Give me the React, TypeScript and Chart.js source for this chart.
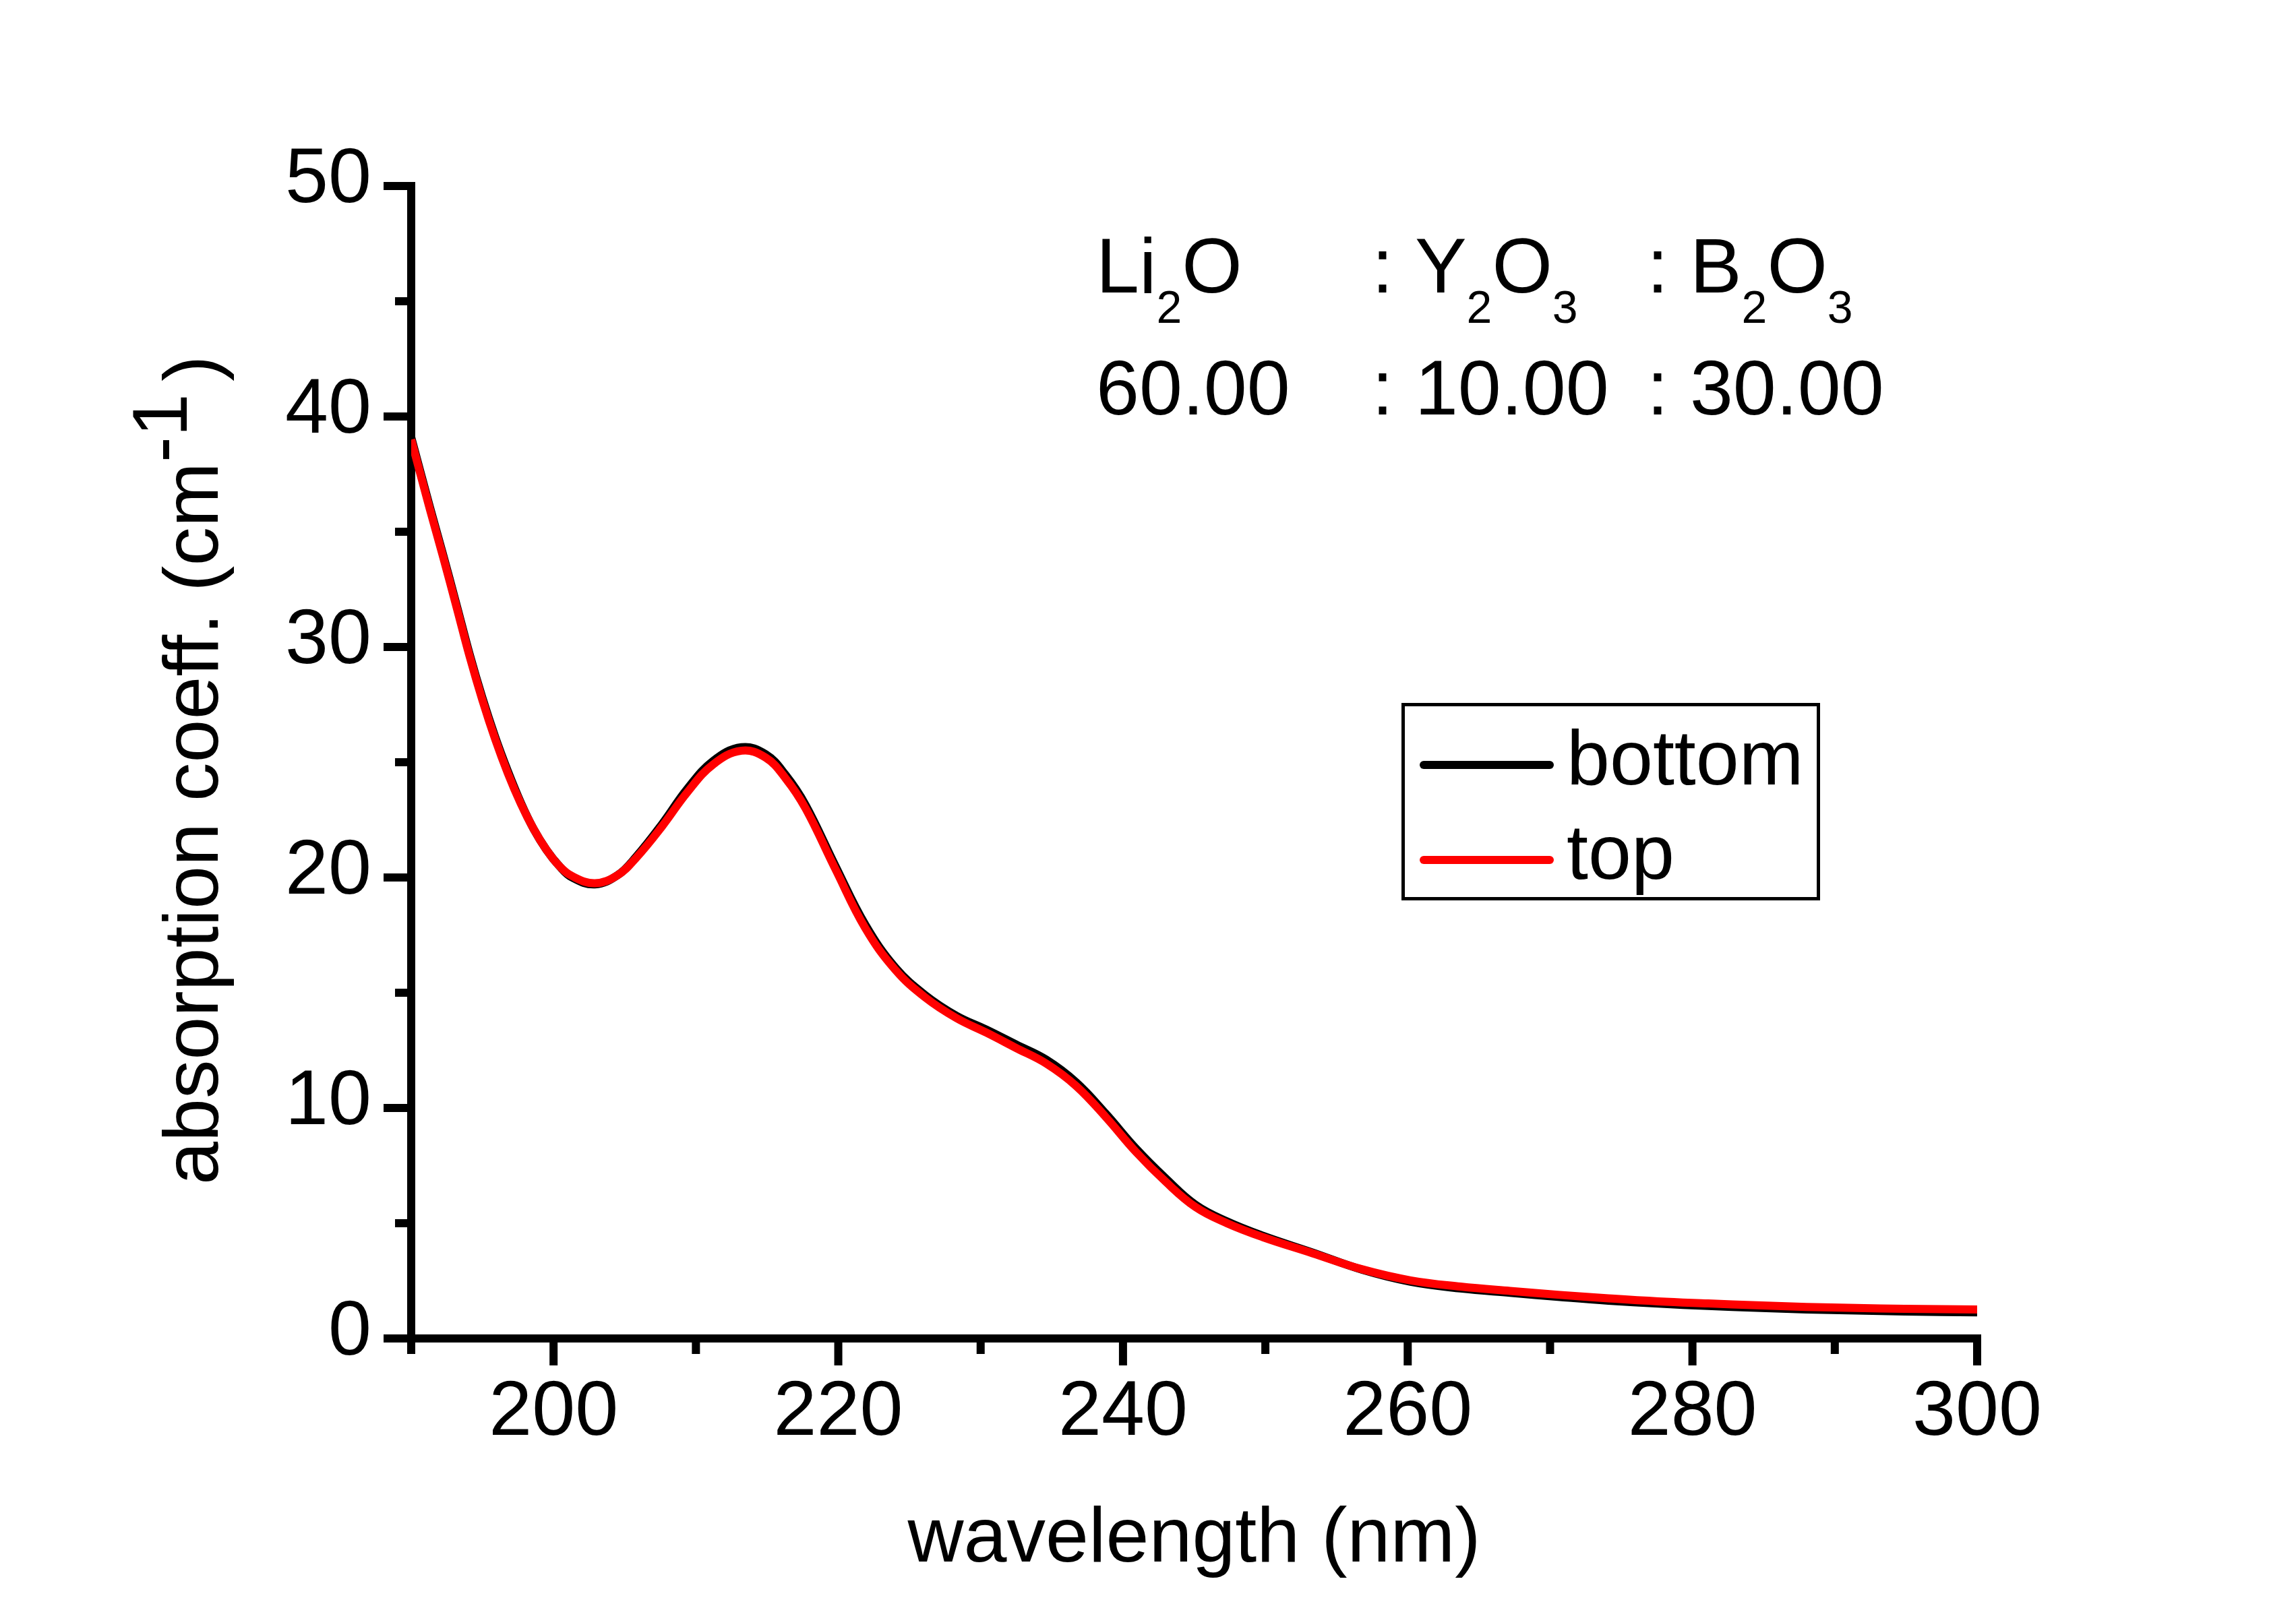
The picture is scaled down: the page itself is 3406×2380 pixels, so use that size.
import React, { useEffect, useRef } from 'react';
import { Chart, registerables } from 'chart.js';

Chart.register(...registerables);

// ---------------- data ----------------
const wavelength = [
  190, 191.3, 192.2, 193.2, 194.1, 195.0, 195.9, 196.8, 197.7, 198.6, 199.5, 200.4, 201.3,
  202.9, 204.5, 205.8, 207.6, 209.4, 211.2, 213.2, 214.9, 216.3, 217.7, 219.8, 221.9, 224.0,
  226.1, 228.3, 230.4, 232.5, 234.6, 236.7, 238.8, 240.9, 243.0, 245.1, 247.3, 249.8, 253.3,
  256.8, 260.2, 263.7, 267.2, 270.7, 274.1, 277.6, 281.1, 284.5, 288.0, 291.5, 294.9, 300,
];

const bottomValues = [
  39.1, 36.1, 34.1, 31.8, 29.7, 27.8, 26.1, 24.6, 23.25, 22.1, 21.2, 20.5, 20.0,
  19.7, 20.1, 20.9, 22.3, 23.85, 25.05, 25.65, 25.35, 24.45, 23.15, 20.5, 17.95, 16.1,
  14.9, 14.0, 13.4, 12.75, 12.1, 11.12, 9.75, 8.25, 6.95, 5.8, 5.08, 4.46, 3.73,
  2.98, 2.46, 2.17, 1.98, 1.8, 1.64, 1.51, 1.41, 1.33, 1.26, 1.21, 1.17, 1.13,
];

const topValues = [
  39.0, 36.0, 34.0, 31.7, 29.6, 27.7, 26.0, 24.5, 23.2, 22.1, 21.2, 20.5, 20.06,
  19.75, 20.1, 20.85, 22.2, 23.7, 24.9, 25.5, 25.2, 24.3, 23.0, 20.36, 17.8, 16.0,
  14.8, 13.9, 13.27, 12.6, 11.93, 10.96, 9.6, 8.1, 6.8, 5.7, 5.0, 4.4, 3.7,
  3.0, 2.52, 2.25, 2.06, 1.89, 1.74, 1.61, 1.52, 1.44, 1.37, 1.32, 1.29, 1.26,
];

const seriesLabels = ['bottom', 'top'];
const seriesColors = ['#000000', '#ff0000'];

const xRange = [190, 300];
const xTickStep = 10;
const xLabelEvery = 20;
const yRange = [0, 50];
const yTickStep = 5;
const yLabelEvery = 10;

const xTitle = 'wavelength (nm)';
const yTitleMain = 'absorption coeff. (cm';
const yTitleSup = '-1';
const yTitleEnd = ')';

// composition header: [text, isSubscript]
const compositionNames: [string, boolean][][] = [
  [['Li', false], ['2', true], ['O', false]],
  [[': Y', false], ['2', true], ['O', false], ['3', true]],
  [[': B', false], ['2', true], ['O', false], ['3', true]],
];
const compositionValues = ['60.00', ': 10.00', ': 30.00'];

// ---------------- styling ----------------
const FAMILY = '"Liberation Sans", Arial, Helvetica, sans-serif';
const FS = 115;
const SUB_FS = 68;
const f = (s: number) => `${s}px ${FAMILY}`;

const decorPlugin = {
  id: 'decor',
  beforeDraw(chart: any) {
    const ctx = chart.ctx;
    ctx.save();
    ctx.fillStyle = '#ffffff';
    ctx.fillRect(0, 0, chart.width, chart.height);
    ctx.restore();
  },
  beforeDatasetsDraw(chart: any) {
    const ctx = chart.ctx;
    const xs = chart.scales.x;
    const ys = chart.scales.y;
    const { left, right, top, bottom } = chart.chartArea;
    ctx.save();
    ctx.strokeStyle = '#000';
    ctx.lineWidth = 12;
    ctx.lineCap = 'butt';
    ctx.beginPath();
    ctx.moveTo(left, top - 6);
    ctx.lineTo(left, bottom + 6);
    ctx.moveTo(left - 6, bottom);
    ctx.lineTo(right + 6, bottom);
    ctx.stroke();
    ys.ticks.forEach((t: any) => {
      const y = ys.getPixelForValue(t.value);
      const major = Math.round(t.value) % yLabelEvery === 0;
      const len = major ? 41 : 24;
      ctx.beginPath();
      ctx.moveTo(left, y);
      ctx.lineTo(left - len, y);
      ctx.stroke();
    });
    xs.ticks.forEach((t: any) => {
      const x = xs.getPixelForValue(t.value);
      const major = Math.round(t.value) % xLabelEvery === 0;
      const len = major ? 40 : 23;
      ctx.beginPath();
      ctx.moveTo(x, bottom);
      ctx.lineTo(x, bottom + len);
      ctx.stroke();
    });
    ctx.restore();
  },
  afterDraw(chart: any) {
    const ctx = chart.ctx;
    ctx.save();
    ctx.fillStyle = '#000';
    ctx.textBaseline = 'alphabetic';
    ctx.textAlign = 'left';

    // y-axis title (rotated, with superscript)
    ctx.save();
    ctx.translate(323, 1758);
    ctx.rotate(-Math.PI / 2);
    ctx.font = f(FS);
    ctx.fillText(yTitleMain, 0, 0);
    let px = ctx.measureText(yTitleMain).width;
    ctx.fillText(yTitleSup, px, -46);
    px += ctx.measureText(yTitleSup).width + 18;
    ctx.fillText(yTitleEnd, px, 0);
    ctx.restore();

    // composition header
    const colX = [1626, 2035, 2443];
    const row1Base = 434;
    const row2Base = 615;
    compositionNames.forEach((parts, i) => {
      let x = colX[i];
      parts.forEach(([txt, sub]) => {
        ctx.font = f(sub ? SUB_FS : FS);
        ctx.fillText(txt, x, sub ? row1Base + 45 : row1Base);
        x += ctx.measureText(txt).width;
      });
    });
    ctx.font = f(FS);
    compositionValues.forEach((txt, i) => {
      ctx.fillText(txt, colX[i], row2Base);
    });

    // legend
    const bx = 2079, by = 1043, bw = 621, bh = 293;
    ctx.strokeStyle = '#000';
    ctx.lineWidth = 5;
    ctx.strokeRect(bx + 2.5, by + 2.5, bw - 5, bh - 5);
    const rows = [1135, 1276];
    const bases = [1164, 1304];
    chart.data.datasets.forEach((ds: any, i: number) => {
      ctx.strokeStyle = ds.borderColor;
      ctx.lineWidth = 12;
      ctx.lineCap = 'round';
      ctx.beginPath();
      ctx.moveTo(2112, rows[i]);
      ctx.lineTo(2299, rows[i]);
      ctx.stroke();
      ctx.fillStyle = '#000';
      ctx.font = f(FS);
      ctx.fillText(ds.label, 2324, bases[i]);
    });
    ctx.restore();
  },
};

export default function App() {
  const ref = useRef<HTMLCanvasElement | null>(null);

  useEffect(() => {
    document.body.style.margin = '0';
    document.body.style.overflow = 'hidden';
    const canvas = ref.current!;
    const chart = new Chart(canvas, {
      type: 'line',
      data: {
        datasets: [
          {
            label: seriesLabels[0],
            data: wavelength.map((x, i) => ({ x, y: bottomValues[i] })),
            borderColor: seriesColors[0],
            backgroundColor: seriesColors[0],
            borderWidth: 12,
            pointRadius: 0,
            tension: 0.4,
            fill: false,
            order: 1,
          },
          {
            label: seriesLabels[1],
            data: wavelength.map((x, i) => ({ x, y: topValues[i] })),
            borderColor: seriesColors[1],
            backgroundColor: seriesColors[1],
            borderWidth: 12,
            pointRadius: 0,
            tension: 0.4,
            fill: false,
            order: 0,
          },
        ],
      },
      options: {
        responsive: false,
        animation: false,
        devicePixelRatio: 1,
        layout: { padding: { top: 276, right: 473, left: 0, bottom: 0 } },
        elements: { line: { borderJoinStyle: 'round', borderCapStyle: 'butt' } },
        plugins: { legend: { display: false }, tooltip: { enabled: false } },
        scales: {
          x: {
            type: 'linear',
            min: xRange[0],
            max: xRange[1],
            afterFit: (s: any) => {
              s.height = 394;
            },
            grid: { display: false, drawTicks: false },
            border: { display: false },
            ticks: {
              stepSize: xTickStep,
              autoSkip: false,
              maxRotation: 0,
              padding: 42,
              color: '#000',
              font: { family: FAMILY, size: FS },
              callback: (v: any) => (Math.round(v) % xLabelEvery === 0 ? String(v) : ''),
            },
            title: {
              display: true,
              text: xTitle,
              color: '#000',
              font: { family: FAMILY, size: FS },
              padding: { top: 0, bottom: 26 },
            },
          },
          y: {
            type: 'linear',
            min: yRange[0],
            max: yRange[1],
            afterFit: (s: any) => {
              s.width = 610;
            },
            grid: { display: false, drawTicks: false },
            border: { display: false },
            ticks: {
              stepSize: yTickStep,
              autoSkip: false,
              padding: 59,
              labelOffset: -8,
              color: '#000',
              font: { family: FAMILY, size: FS },
              callback: (v: any) => (Math.round(v) % yLabelEvery === 0 ? String(v) : ''),
            },
          },
        },
      } as any,
      plugins: [decorPlugin],
    });
    return () => chart.destroy();
  }, []);

  return (
    <div style={{ width: 3406, height: 2380, background: '#fff' }}>
      <canvas ref={ref} width={3406} height={2380} style={{ display: 'block', width: 3406, height: 2380 }} />
    </div>
  );
}
